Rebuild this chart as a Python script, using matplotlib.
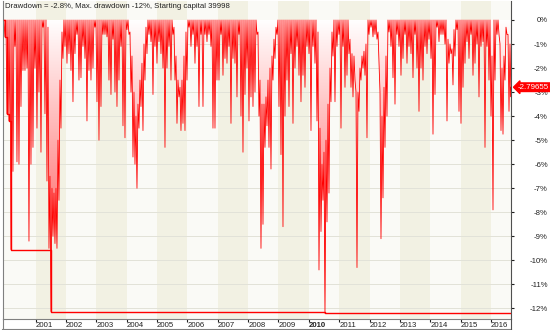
import matplotlib
matplotlib.use('Agg')
import matplotlib.pyplot as plt
import matplotlib.transforms as mtransforms
import numpy as np
from matplotlib.colors import LinearSegmentedColormap
from matplotlib.lines import Line2D

plt.rcParams['font.family'] = ['Liberation Sans', 'DejaVu Sans']
plt.rcParams['axes.unicode_minus'] = False

# time span of the drawdown curve, fractional years
START_YEAR = 1999.955
END_YEAR = 2016.628
LAST_DD = -2.79655
MAX_DD_TEXT = -12
STARTING_CAPITAL = 39998

# deepest drawdown (%) reached in each slice of time
dd_bottom = [
    0.7, 3.9, 4.2, 9.55, 6.3, 1.1, 5.9, 6.0, 3.6, 2.1,
    2.1, 2.0, 9.2, 6.0, 5.3, 2.0, 4.5, 3.0, 5.5, 0.3,
    3.9, 6.7, 9.5, 12.13, 9.0, 9.3, 9.5, 7.5, 4.5, 1.6,
    1.1, 1.8, 1.4, 2.1, 3.4, 1.4, 0.6, 2.5, 2.4, 1.1,
    1.6, 4.2, 2.1, 2.5, 2.0, 0.3, 3.4, 5.0, 3.6, 0.6,
    0.6, 0.7, 2.5, 3.1, 0.8, 3.0, 3.6, 2.5, 1.1, 4.4,
    4.9, 0.4, 0.6, 3.0, 5.7, 6.0, 7.0, 4.5, 3.6, 4.6,
    2.5, 1.4, 0.6, 0.9, 3.1, 1.1, 1.8, 0.9, 1.4, 2.0,
    5.3, 2.0, 1.1, 2.5, 0.6, 2.5, 4.3, 3.2, 4.6, 4.3,
    4.6, 2.5, 0.3, 1.1, 0.6, 1.8, 1.1, 3.6, 0.6, 3.6,
    0.6, 0.9, 0.6, 1.1, 4.5, 4.5, 2.5, 2.5, 0.6, 2.3,
    1.6, 1.8, 1.1, 4.3, 1.6, 1.8, 3.2, 0.6, 4.0, 5.5,
    3.1, 2.0, 4.2, 3.2, 3.6, 3.0, 0.6, 4.0, 9.5, 8.5,
    5.3, 4.4, 5.3, 6.2, 2.5, 1.6, 0.6, 3.6, 5.6, 8.6,
    4.0, 2.5, 3.6, 1.4, 4.3, 2.0, 1.1, 2.3, 3.4, 2.3,
    2.8, 1.1, 1.4, 4.6, 1.1, 1.8, 4.2, 10.4, 8.8, 7.5,
    12.2, 8.4, 7.2, 3.4, 1.5, 3.4, 1.1, 0.6, 4.5, 1.1,
    2.8, 2.3, 1.4, 2.8, 3.2, 2.5, 10.3, 3.8, 2.5, 2.0,
    2.3, 4.9, 0.6, 0.3, 0.7, 0.6, 0.8, 1.8, 9.1, 7.4,
    5.3, 4.0, 0.5, 1.1, 2.4, 3.5, 0.6, 1.1, 2.3, 1.6,
    0.6, 1.8, 1.1, 1.4, 2.4, 0.6, 2.0, 3.8, 2.0, 2.5,
    1.1, 1.4, 0.8, 1.6, 4.75, 3.1, 0.3, 0.9, 0.6, 0.6,
    1.0, 4.2, 1.8, 1.4, 2.7, 1.5, 0.4, 3.8, 4.3, 2.8,
    1.8, 0.9, 1.6, 0.6, 2.3, 1.8, 1.0, 3.2, 1.1, 0.9,
    5.3, 1.1, 2.5, 4.0, 7.9, 2.5, 0.6, 0.6, 4.6, 4.75,
    2.5, 0.6, 3.8, 3.2,
]

# shallowest drawdown (%) in each slice (0 = new equity high)
dd_top = [
    0, 0, 0, 0, 0, 0, 0, 0, 0, 0,
    0, 0, 0, 0, 0, 0, 0, 0, 0, 0,
    0, 0, 0.3, 6.5, 7.0, 7.2, 7.0, 5.0, 2.5, 0.5,
    0, 0, 0, 0, 0, 0, 0, 0, 0, 0,
    0, 0, 0, 0, 0, 0, 0, 0, 0, 0,
    0, 0, 0, 0, 0, 0, 0, 0, 0, 0,
    0, 0, 0, 0.5, 1.5, 3.0, 4.0, 3.5, 2.5, 1.8,
    1.0, 0.3, 0, 0, 0, 0, 0, 0, 0, 0,
    0, 0, 0, 0, 0, 0.3, 1.5, 2.5, 2.8, 2.5,
    1.5, 0.5, 0, 0, 0, 0, 0, 0, 0, 0,
    0, 0, 0, 0, 0, 0, 0, 0, 0, 0,
    0, 0, 0, 0, 0, 0, 0, 0, 0, 0,
    0, 0, 0, 0, 0, 0, 0, 0.5, 2.5, 3.5,
    3.5, 3.2, 2.5, 2.0, 1.5, 0.8, 0.3, 0, 0, 0,
    0, 0, 0, 0, 0, 0, 0, 0, 0, 0,
    0, 0, 0, 0, 0, 0, 0, 0.5, 4.5, 6.0,
    5.5, 5.0, 3.5, 2.0, 0.5, 0, 0, 0, 0, 0,
    0, 0, 0, 0.8, 1.4, 1.5, 3.0, 3.0, 2.0, 1.5,
    1.3, 1.0, 0, 0, 0, 0, 0, 0.5, 3.0, 4.0,
    2.8, 1.5, 0, 0, 0, 0, 0, 0, 0, 0,
    0, 0, 0, 0, 0, 0, 0, 0, 0, 0,
    0, 0, 0, 0, 0, 0, 0, 0, 0, 0,
    0, 0, 0.8, 1.0, 1.2, 0.4, 0, 0, 0, 0,
    0, 0, 0, 0, 0, 0, 0, 0, 0, 0,
    0, 0, 0, 0, 1.5, 0, 0, 0, 1.0, 2.0,
    1.5, 0.3, 0.6, 1.0,
]

years = list(range(2001, 2017))
pct_levels = list(range(0, -13, -1))

X_MIN, X_MAX = 1999.923, 2016.661
Y_MIN, Y_MAX = -12.44, 0.79

t = np.linspace(START_YEAR, END_YEAR, len(dd_bottom))
half = (t[1] - t[0]) / 2
xs = np.column_stack([t, t + half]).ravel()
ys = -np.column_stack([np.array(dd_top), np.array(dd_bottom)]).ravel()
xs = np.append(xs, X_MAX)
ys = np.append(ys, LAST_DD)
max_dd = np.minimum.accumulate(ys)

fig = plt.figure(figsize=(5.5, 3.3), dpi=100)
ax = fig.add_axes([3 / 550, 11 / 330, 508 / 550, 318 / 330])

# alternating year bands
for yr in range(2000, 2017):
    c = '#F2F1E3' if yr % 2 else '#FAFAF6'
    ax.axvspan(yr, yr + 1, color=c, lw=0, zorder=0)
ax.axvspan(X_MIN, 2000, color='#FAFAF6', lw=0, zorder=0)

for lvl in pct_levels:
    ax.axhline(lvl, color='#E2E2D8', lw=0.7, zorder=0.5)

# gradient fill under the drawdown curve
cmap = LinearSegmentedColormap.from_list('dd', ['#FFFFFF', '#FF9A9A', '#FF3030'])
poly = ax.fill_between(xs, ys, 0, facecolor='none', edgecolor='none')
grad = np.linspace(0, 1, 256).reshape(-1, 1)
im = ax.imshow(grad, extent=(X_MIN, X_MAX, Y_MIN, 0), aspect='auto',
               cmap=cmap, origin='upper', zorder=1, interpolation='bilinear')
im.set_clip_path(poly.get_paths()[0], transform=ax.transData)

ax.plot(xs, ys, color='#FF0000', lw=0.6, zorder=2)
ax.plot(xs, max_dd, color='#FF0000', lw=1.0, drawstyle='steps-post', zorder=3)

ax.set_xlim(X_MIN, X_MAX)
ax.set_ylim(Y_MIN, Y_MAX)

ax.yaxis.tick_right()
ax.set_yticks(pct_levels)
ax.set_yticklabels([f'{v}%' for v in pct_levels])
ax.tick_params(axis='y', length=2, pad=24.5, labelsize=5.6, colors='#202020')
for lbl in ax.get_yticklabels():
    lbl.set_ha('right')

ax.set_xticks(years)
ax.set_xticklabels([str(y) for y in years])
ax.tick_params(axis='x', length=2, pad=0.3, labelsize=5.6, colors='#202020')
for lbl in ax.get_xticklabels():
    lbl.set_ha('left')
    if lbl.get_text() == '2010':
        lbl.set_fontweight('bold')

for side in ['left', 'bottom']:
    ax.spines[side].set_color('#808080')
ax.spines['right'].set_color('#505050')
ax.spines['top'].set_visible(False)

# frame around the date axis strip
fig.add_artist(Line2D([2 / 550, 511 / 550], [1 / 330, 1 / 330], color='#808080', lw=0.8))
fig.add_artist(Line2D([511 / 550, 511 / 550], [1 / 330, 11 / 330], color='#505050', lw=0.8))
fig.add_artist(Line2D([3 / 550, 3 / 550], [1 / 330, 11 / 330], color='#808080', lw=0.8))

fig.text(5 / 550, 1 - 7 / 330,
         f'Drawdown = {LAST_DD:.1f}%, Max. drawdown {MAX_DD_TEXT}%, Starting capital {STARTING_CAPITAL}',
         ha='left', va='center', fontsize=5.6, color='#202020')

trans = mtransforms.blended_transform_factory(ax.transAxes, ax.transData)
ax.text(1.0 + 7 / 508, LAST_DD, f'{LAST_DD:.5f}', transform=trans, ha='left', va='center',
        fontsize=5.7, color='white', clip_on=False, zorder=10,
        bbox=dict(boxstyle='larrow,pad=0.1', fc='#FF0000', ec='#FF0000'))

fig.savefig('out.png', dpi=100)
